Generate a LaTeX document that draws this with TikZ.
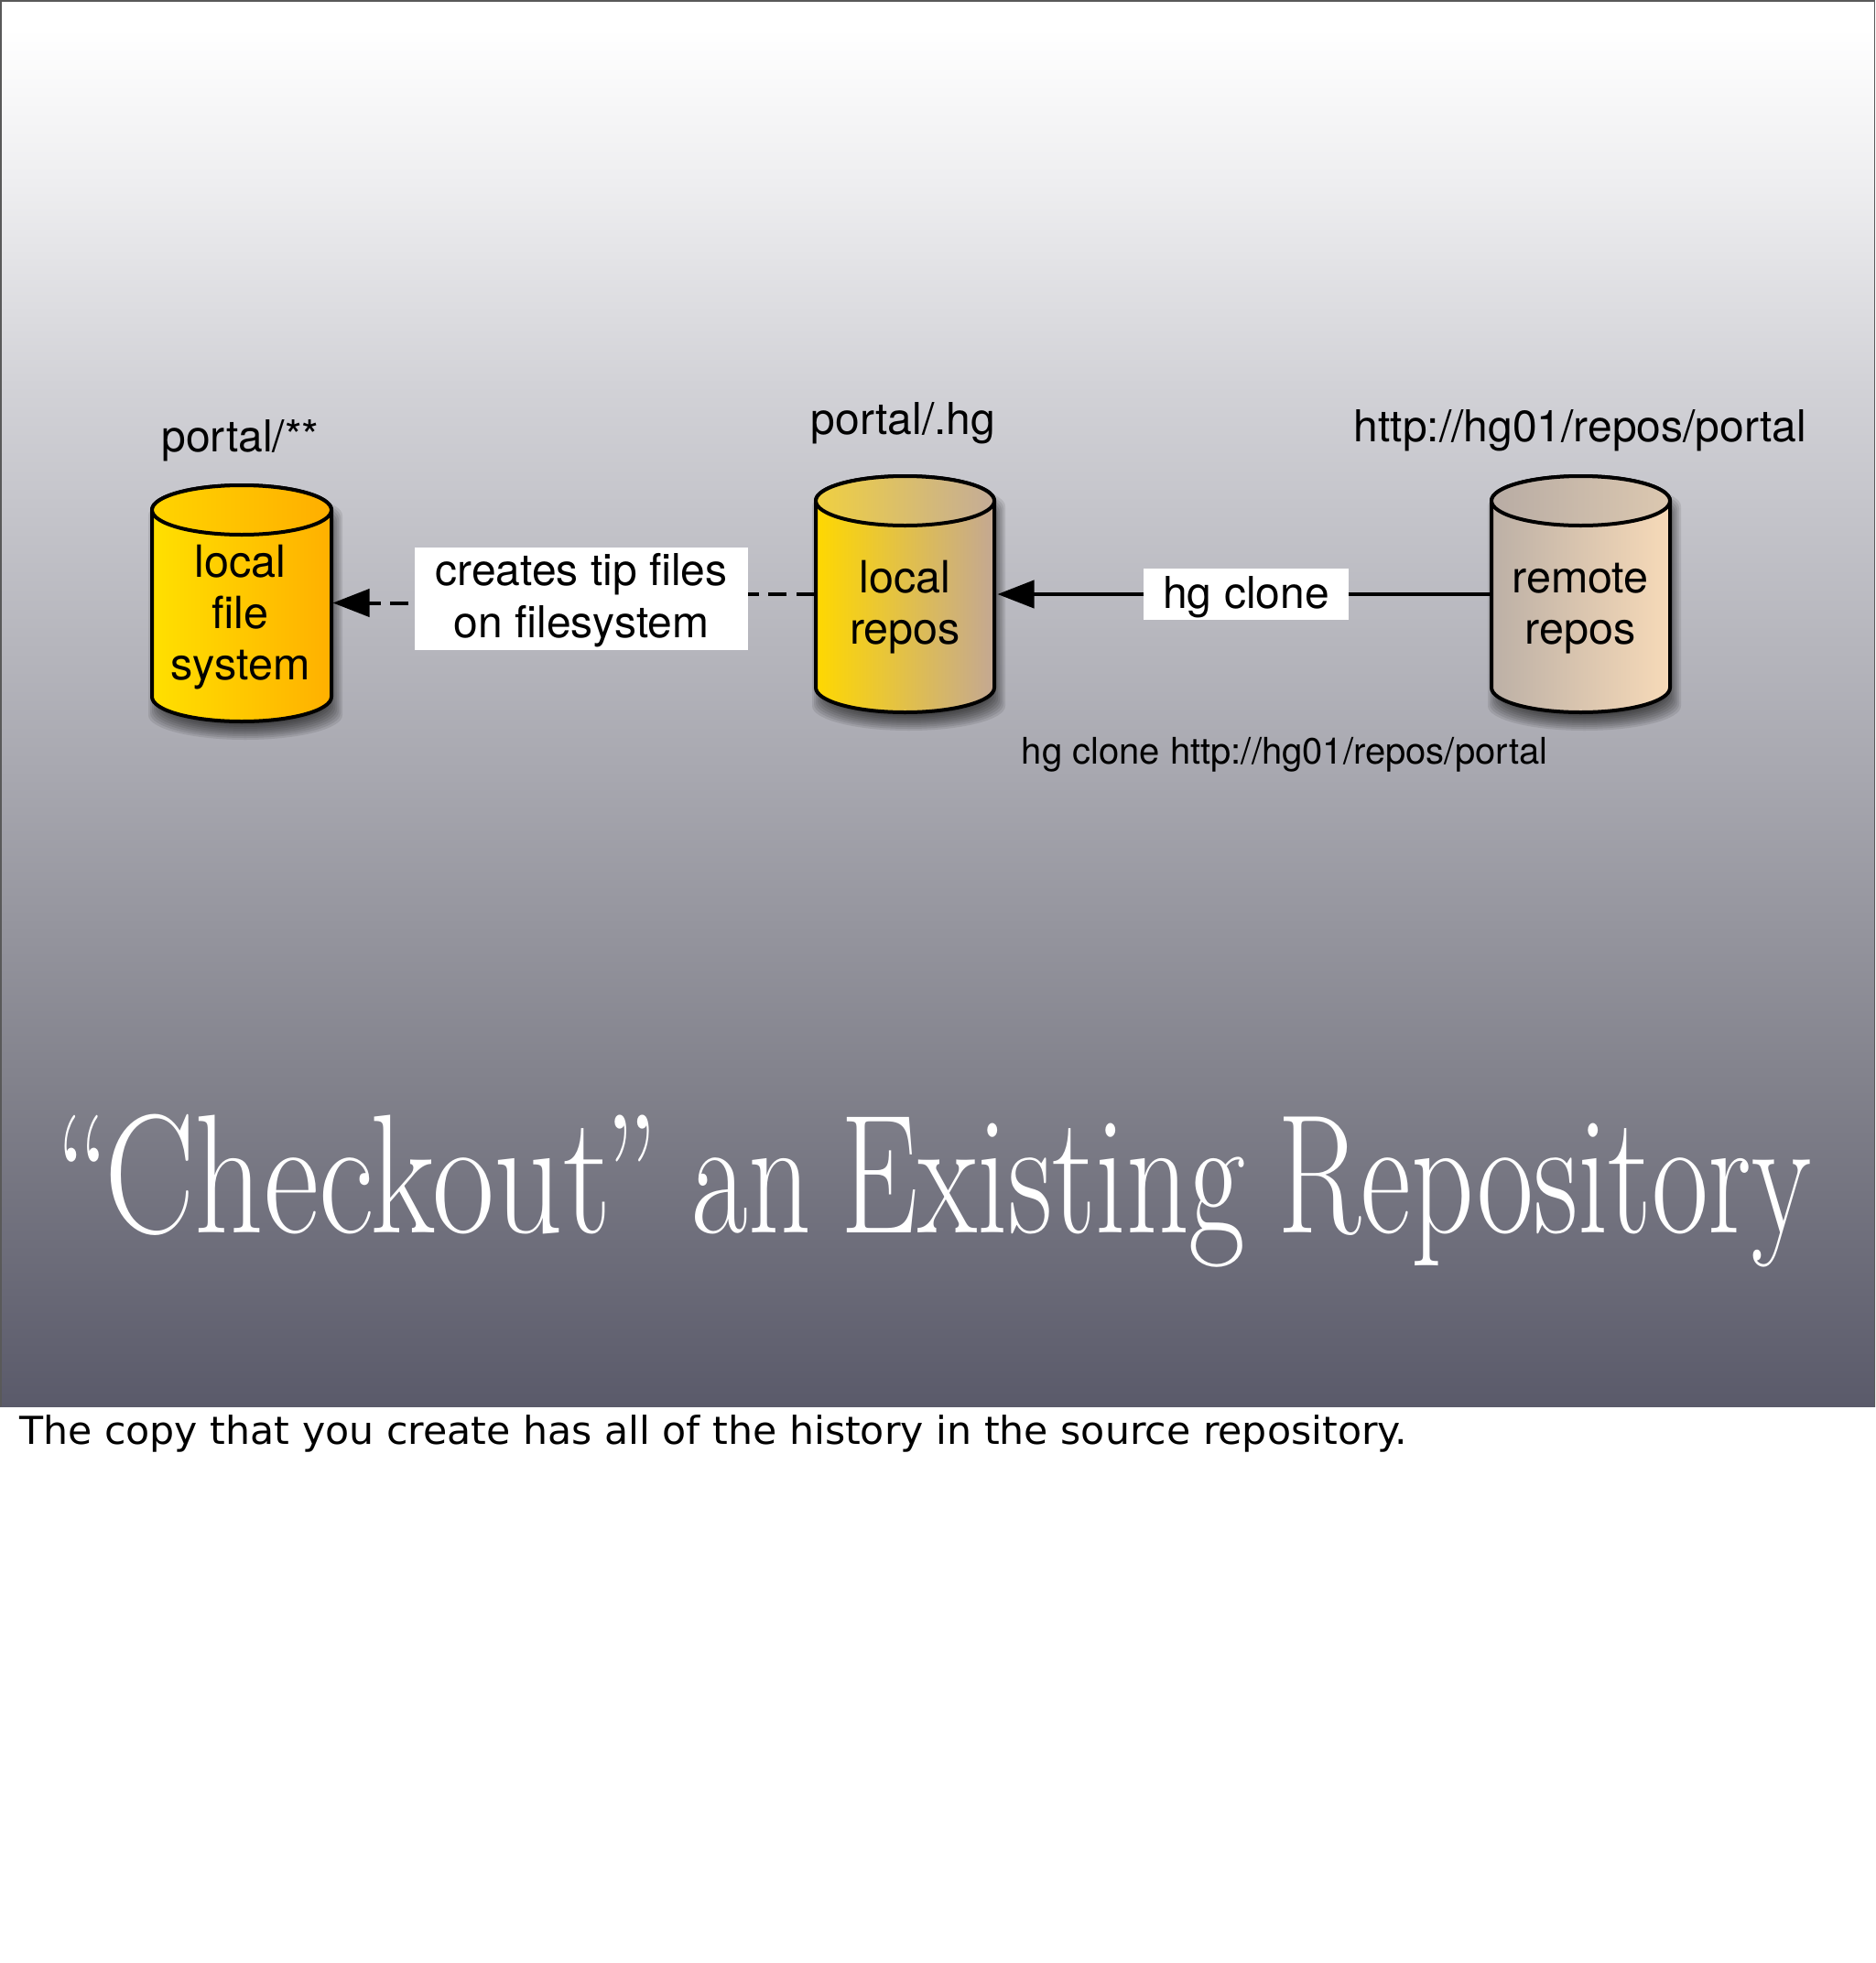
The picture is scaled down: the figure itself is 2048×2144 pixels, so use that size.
\documentclass[tikz,border=0pt]{standalone}
\usepackage{fontspec}
\usetikzlibrary{arrows.meta}
\newfontfamily\hvfont{TeX Gyre Heros}
\newfontfamily\djfont{DejaVu Sans}
\definecolor{gA}{HTML}{FFFFFF}
\definecolor{gB}{HTML}{EEEEF0}
\definecolor{gC}{HTML}{D2D2D7}
\definecolor{gD}{HTML}{A8A8B0}
\definecolor{gE}{HTML}{82828C}
\definecolor{gF}{HTML}{5A5A6A}
\definecolor{fsBodyL}{HTML}{FFE000}
\definecolor{fsBodyR}{HTML}{FFB000}
\definecolor{fsTopL}{HTML}{FFD400}
\definecolor{fsTopR}{HTML}{FFAE00}
\definecolor{reBodyL}{HTML}{FFD800}
\definecolor{reBodyR}{HTML}{C4A893}
\definecolor{reTopL}{HTML}{F0D040}
\definecolor{reTopR}{HTML}{C4AC98}
\definecolor{rmBodyL}{HTML}{BCB0A6}
\definecolor{rmBodyR}{HTML}{F7DAB8}
\definecolor{rmTopL}{HTML}{B8ACA4}
\definecolor{rmTopR}{HTML}{DCC8B0}
\pgfdeclareverticalshading{slidegrad}{100bp}{color(0bp)=(gF); color(25bp)=(gF); color(36.59bp)=(gE); color(47.65bp)=(gD); color(61.33bp)=(gC); color(68.49bp)=(gB); color(74bp)=(gA); color(100bp)=(gA)}
\pgfdeclarelayer{bgl}
\pgfdeclarelayer{behind}
\pgfsetlayers{bgl,behind,main}
\newcommand{\cylpath}[5]{(#1,#3) -- (#1,#4) arc[start angle=180,end angle=0,x radius={(#2-(#1))/2},y radius=#5] -- (#2,#3) arc[start angle=0,end angle=-180,x radius={(#2-(#1))/2},y radius=#5] -- cycle}
\newcommand{\cylinderdraw}[8]{%
  \foreach \d in {-10,-8,...,8}{
    \pgfmathsetmacro{\xa}{#1+4-\d}\pgfmathsetmacro{\xb}{#2+4+\d}
    \pgfmathsetmacro{\ya}{#3+14-\d}\pgfmathsetmacro{\yb}{#4+12+\d}
    \fill[black,fill opacity=0.09] \cylpath{\xa}{\xb}{\ya}{\yb}{27};
  }
  \draw[cyledge,left color=#5,right color=#6] \cylpath{#1}{#2}{#3}{#4}{27};
  \draw[cyledge,left color=#7,right color=#8] ({(#1+#2)/2},#3) ellipse[x radius={(#2-(#1))/2},y radius=27];
}
\newcommand{\lowerline}[1]{\rule{0pt}{#1pt}}
\tikzset{
  cyledge/.style={draw=black,line width=4pt},
  cyltext/.style={font=\hvfont\fontsize{48.5}{56}\selectfont,align=center,inner sep=0pt,outer sep=0pt,text=black,text width=198pt,minimum width=198pt,minimum height=259pt},
  lab/.style={font=\hvfont\fontsize{48}{56}\selectfont,anchor=base,inner sep=0pt,outer sep=0pt,text=black},
  whitebox/.style={fill=white,inner sep=0pt,outer sep=0pt,align=center,font=\hvfont\fontsize{48}{57}\selectfont,text=black},
  conn/.style={draw=black,line width=4pt,-{Triangle[length=40pt,width=30pt]}}
}
\begin{document}
\begin{tikzpicture}[x=1pt,y=-1pt]
\useasboundingbox (0,0) rectangle (2048,2144);
\begin{pgfonlayer}{bgl}
\fill[white] (0,0) rectangle (2048,2144);
\shade[shading=slidegrad] (0,0) rectangle (2048,1536);
\draw[color=black!65,line width=1.5pt] (0.75,1536) -- (0.75,0.75) -- (2047.25,0.75) -- (2047.25,1536);
\cylinderdraw{166}{362}{557}{761}{fsBodyL}{fsBodyR}{fsTopL}{fsTopR}
\cylinderdraw{891}{1086}{547}{751}{reBodyL}{reBodyR}{reTopL}{reTopR}
\cylinderdraw{1629}{1824}{547}{751}{rmBodyL}{rmBodyR}{rmTopL}{rmTopR}
\end{pgfonlayer}
\node[cyltext] (fs) at (262.5,658.5) {\lowerline{66}local\\file\\system};
\node[cyltext] (repos) at (988.5,649) {\lowerline{64}local\\repos};
\node[cyltext] (remote) at (1726,649) {\lowerline{64}remote\\repos};
\node[whitebox,minimum width=364pt,minimum height=112pt] (tipbox) at (635,654) {\lowerline{39}creates tip files\\on filesystem};
\node[whitebox,minimum width=224pt,minimum height=56pt] (clonebox) at (1361,649) {\lowerline{41}hg clone};
\node[lab] (fslab) at (262.5,493) {portal/**};
\node[lab] (repolab) at (986.5,474) {portal/.hg};
\node[lab] (remotelab) at (1726,482) {http://hg01/repos/portal};
\node[lab,font=\hvfont\fontsize{40}{48}\selectfont] (cmdlab) at (1403,834) {hg clone http://hg01/repos/portal};
\node[anchor=base,inner sep=0pt,text=white,font=\fontsize{185}{200}\selectfont] (title) at (1020,1346) {\scalebox{1}[1.38]{\resizebox{1917pt}{!}{“\kern-0.04em\scalebox{1.1}[1]{Checkout}\kern-0.05em”\kern-0.03em{} an\kern-0.06em{} Existing\kern-0.04em{} Repository}}};
\node[anchor=base west,inner sep=0pt,text=black,font=\djfont\fontsize{42}{50}\selectfont] (note) at (21,1577) {\resizebox{1516pt}{\height}{The copy that you create has all of the history in the source repository.}};
\begin{pgfonlayer}{behind}
\draw[conn,shorten >=2pt] (remote.west) -- (repos.east);
\draw[conn,dash pattern=on 20pt off 10.2pt,shorten >=2pt] (repos.west) -- (tipbox.center |- repos.west) -- (tipbox.center |- fs.east) -- (fs.east);
\end{pgfonlayer}
\end{tikzpicture}
\end{document}
